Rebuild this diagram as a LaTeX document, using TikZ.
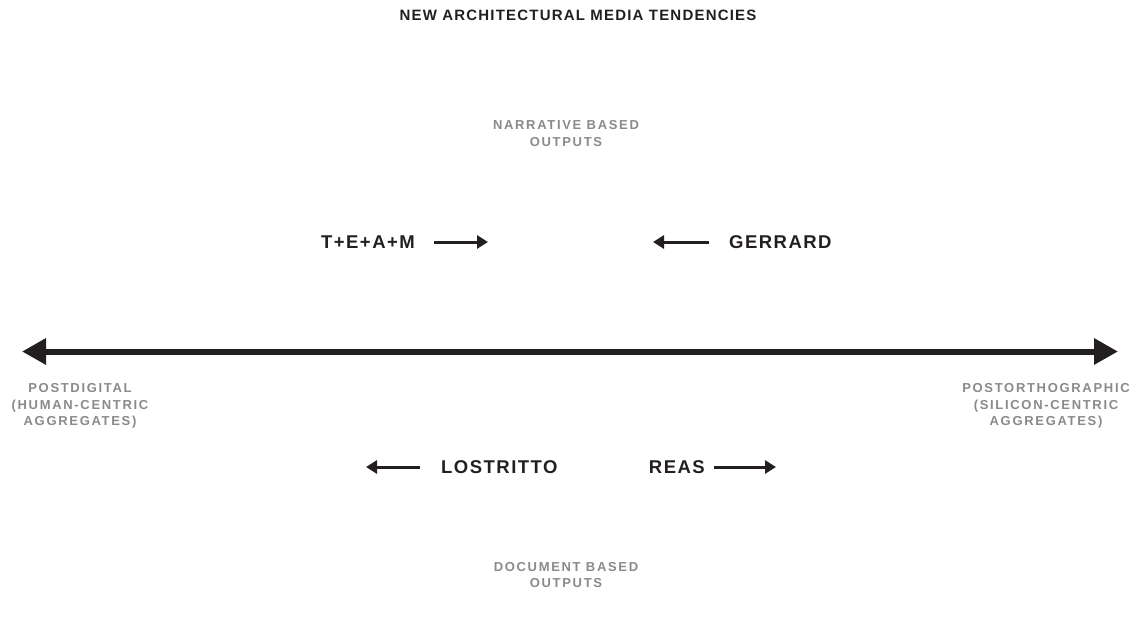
\documentclass[tikz,border=0pt]{standalone}
\usepackage{fontspec}
\setmainfont{Liberation Sans}
\newfontfamily\headfont{Liberation Sans}[LetterSpace=8]
\newfontfamily\authfont{Liberation Sans}[LetterSpace=8]
\newfontfamily\greyfont{Liberation Sans}[LetterSpace=13]
\usetikzlibrary{arrows.meta, positioning}
\definecolor{inkc}{RGB}{35,31,32}
\definecolor{greyc}{RGB}{138,138,140}
\tikzset{
  author/.style={font=\authfont\bfseries\fontsize{18.5}{20}\selectfont, text=inkc,
                 inner sep=0pt},
  pole/.style={font=\greyfont\bfseries\fontsize{13}{16.5}\selectfont, text=greyc,
               align=center, inner sep=0pt},
  pull/.style={-{Triangle[length=11pt, width=13pt]}, line width=3pt, draw=inkc},
}

\begin{document}
\begin{tikzpicture}[x=1pt, y=-1pt]
  \useasboundingbox (0,0) rectangle (1138,622);
  \node[font=\headfont\bfseries\fontsize{15}{16}\selectfont, text=inkc, inner sep=0pt]
    (title) at (578,15) {NEW ARCHITECTURAL MEDIA TENDENCIES};

  % spectrum axis
  \coordinate (lend) at (22,351.5);
  \coordinate (rend) at (1118,351.5);
  \draw[line width=6pt, draw=inkc,
        {Triangle[length=24pt, width=25pt]}-{Triangle[length=24pt, width=25pt]}]
    (lend) -- (rend);
  \node[pole] (postdig) at (80,406) {POSTDIGITAL\\(HUMAN-CENTRIC\\AGGREGATES)};
  \node[pole] (postorth) at (1046,406) {POSTORTHOGRAPHIC\\(SILICON-CENTRIC\\AGGREGATES)};

  % output types
  \node[pole] (narr) at (566,133.5) {NARRATIVE BASED\\OUTPUTS};
  \node[pole] (docu) at (566,575) {DOCUMENT BASED\\OUTPUTS};

  % authors above the axis
  \node[author, anchor=east] (team) at (415,242) {T+E+A+M};
  \coordinate[right=73pt of team.east] (teamto);
  \draw[pull] ([xshift=19pt]team.east) -- (teamto);
  \node[author, anchor=west] (gerr) at (729,242) {GERRARD};
  \coordinate[left=76pt of gerr.west] (gerrto);
  \draw[pull] ([xshift=-20pt]gerr.west) -- (gerrto);

  % authors below the axis
  \node[author, anchor=west] (lost) at (441,467) {LOSTRITTO};
  \coordinate[left=75pt of lost.west] (lostto);
  \draw[pull] ([xshift=-21pt]lost.west) -- (lostto);
  \node[author, anchor=east] (reas) at (705,467) {REAS};
  \coordinate[right=71pt of reas.east] (reasto);
  \draw[pull] ([xshift=9pt]reas.east) -- (reasto);
\end{tikzpicture}
\end{document}
